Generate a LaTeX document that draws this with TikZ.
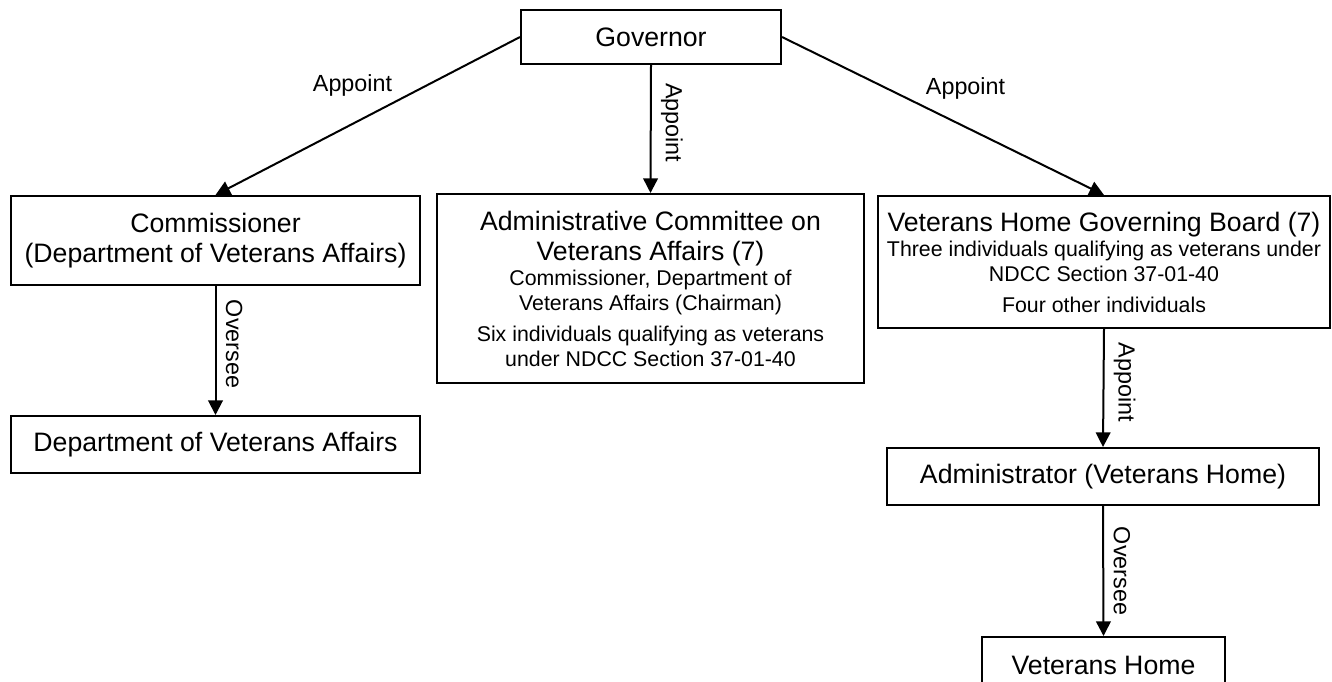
\documentclass[tikz,border=0pt]{standalone}
\usepackage{fontspec}
\setmainfont{Liberation Sans}
\usetikzlibrary{arrows.meta,positioning}

\newcommand{\notefont}{\fontsize{16}{18.75}\selectfont}

\begin{document}
\begin{tikzpicture}[x=0.75pt,y=-0.75pt,
	box/.style={draw,line width=1.5pt,align=center,inner sep=0pt,font=\fontsize{20}{22.5}\selectfont},
	link/.style={line width=1.5pt,-{Triangle[length=11pt,width=11pt]}},
	tag/.style={font=\fontsize{17.5}{20}\selectfont,inner sep=0pt},
	vtag/.style={tag,rotate=-90,anchor=south,inner sep=7pt}]
	\useasboundingbox (0,0) rectangle (1332,682);
	\clip (0,0) rectangle (1332,682);

	\node[box,minimum width=195pt,minimum height=40.5pt] (gov) at (651,37) {Governor};
	\node[box,minimum width=306.75pt,minimum height=66.75pt] (comm) at (215.5,240.5) {Commissioner\\(Department of Veterans Affairs)};
	\node[box,minimum width=306.75pt,minimum height=42.75pt] (dept) at (215.5,444.5) {Department of Veterans Affairs};
	\node[box,minimum width=320.25pt,minimum height=141.75pt] (acva) at (650.5,288.5) {Administrative Committee on\\Veterans Affairs (7)\\[-3.75pt]
		\notefont Commissioner, Department of\\[-3.75pt]
		\notefont Veterans Affairs (Chairman)\\[0.75pt]
		\notefont Six individuals qualifying as veterans\\[-3.75pt]
		\notefont under NDCC Section 37-01-40};
	\node[box,minimum width=339pt,minimum height=99pt] (board) at (1104,262) {Veterans Home Governing Board (7)\\[-3.75pt]
		\notefont Three individuals qualifying as veterans under\\[-3.75pt]
		\notefont NDCC Section 37-01-40\\[0.75pt]
		\notefont Four other individuals};
	\node[box,minimum width=324pt,minimum height=42.75pt] (admin) at (1103,476.5) {Administrator (Veterans Home)};
	\node[box,minimum width=182.25pt,minimum height=42.75pt] (home) at (1103.5,665.5) {Veterans Home};

	\draw [link] (gov.west) to node[tag,pos=0.55,above=20pt] {Appoint} (comm.north);
	\draw [link] (gov.south) to node[vtag,pos=0.45] {Appoint} (acva.north);
	\draw [link] (gov.east) to node[tag,pos=0.57,above=20pt] {Appoint} (board.north);
	\draw [link] (comm.south) to node[vtag,pos=0.45] {Oversee} (dept.north);
	\draw [link] (board.south) to node[vtag,pos=0.45] {Appoint} (admin.north);
	\draw [link] (admin.south) to node[vtag,midway] {Oversee} (home.north);
\end{tikzpicture}
\end{document}
